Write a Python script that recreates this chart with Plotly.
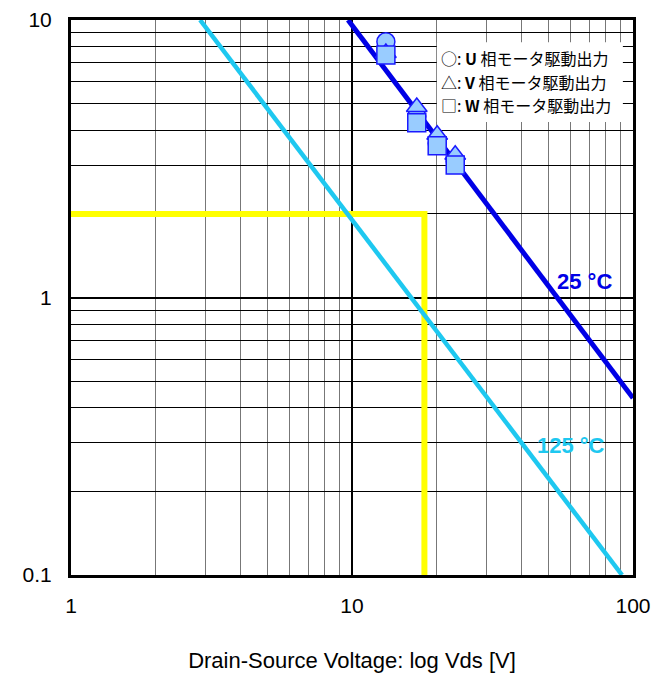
import plotly.graph_objects as go

# Data
line25_v = [9.68, 100]
line25_i = [10, 0.434]
line125_v = [2.88, 91.4]
line125_i = [10, 0.1]
ref_v = [1, 18.1, 18.1]
ref_i = [2, 2, 0.1]

u_v = [13.2, 17.0, 20.1, 23.3]
u_i = [8.35, 4.5, 3.6, 3.1]
v_v = [13.2, 17.0, 20.1, 23.3]
v_i = [7.6, 4.86, 3.86, 3.27]
w_v = [13.2, 17.0, 20.1, 23.3]
w_i = [7.48, 4.26, 3.52, 3.0]

x_tickvals = [1, 10, 100]
x_ticktext = ["1", "10", "100"]
y_tickvals = [0.1, 1, 10]
y_ticktext = ["0.1", "1", "10"]

legend_rows = ["○: <b>U</b> 相モータ駆動出力", "△: <b>V</b> 相モータ駆動出力", "□: <b>W</b> 相モータ駆動出力"]

FONT = "Arial, Liberation Sans, Noto Sans CJK JP, sans-serif"
LFONT = "Noto Sans CJK JP, Arial, sans-serif"
fill = "#99ccff"
edge = "#1a1aff"

fig = go.Figure()
fig.add_trace(go.Scatter(x=ref_v, y=ref_i, mode="lines",
                         line=dict(color="#ffff00", width=6), hoverinfo="skip"))
fig.add_trace(go.Scatter(x=line125_v, y=line125_i, mode="lines",
                         line=dict(color="#1ec8f0", width=4.5)))
fig.add_trace(go.Scatter(x=line25_v, y=line25_i, mode="lines",
                         line=dict(color="#0000e6", width=5)))
ms = 18
fig.add_trace(go.Scatter(x=u_v, y=u_i, mode="markers",
                         marker=dict(symbol="circle", size=ms, color=fill, line=dict(color=edge, width=1.5))))
fig.add_trace(go.Scatter(x=v_v, y=v_i, mode="markers",
                         marker=dict(symbol="triangle-up", size=ms, color=fill, line=dict(color=edge, width=1.5))))
fig.add_trace(go.Scatter(x=w_v, y=w_i, mode="markers",
                         marker=dict(symbol="square", size=ms, color=fill, line=dict(color=edge, width=1.5))))

# Legend box
fig.add_shape(type="rect", xref="paper", yref="paper", x0=0.651, x1=0.982, y0=0.816, y1=0.960,
              fillcolor="white", line=dict(width=0), layer="above")
for k, (row, yy) in enumerate(zip(legend_rows, [0.932, 0.889, 0.847])):
    fig.add_annotation(x=0.655, y=yy, xref="paper", yref="paper", text=row, showarrow=False,
                       xanchor="left", yanchor="middle", font=dict(size=16, color="black", family=LFONT))

fig.add_annotation(x=1.829, y=0.056, xref="x", yref="y", text="<b>25 °C</b>", showarrow=False,
                   font=dict(size=22, color="#0000e6", family=FONT))
fig.add_annotation(x=1.779, y=-0.535, xref="x", yref="y", text="<b>125 °C</b>", showarrow=False,
                   font=dict(size=22, color="#1ec8f0", family=FONT))

# page body has an 8px margin: compensate
fig.update_layout(
    width=662, height=665,
    margin=dict(l=63, r=37, t=12, b=98, autoexpand=False),
    paper_bgcolor="white", plot_bgcolor="white",
    showlegend=False,
    font=dict(family=FONT, color="black"),
    xaxis=dict(type="log", range=[0, 2], tickvals=x_tickvals, ticktext=x_ticktext,
               showgrid=True, gridcolor="black", gridwidth=2,
               minor=dict(dtick="D1", showgrid=True, gridcolor="#777777", gridwidth=1, ticks=""),
               showline=True, linecolor="black", linewidth=3, mirror=True, automargin=False,
               ticks="", tickfont=dict(size=21), zeroline=False, ticklabelstandoff=10,
               title=dict(text="Drain-Source Voltage: log Vds [V]", font=dict(size=22), standoff=44)),
    yaxis=dict(type="log", range=[-1, 1], tickvals=y_tickvals, ticktext=y_ticktext,
               showgrid=True, gridcolor="black", gridwidth=2,
               minor=dict(dtick="D1", showgrid=True, gridcolor="black", gridwidth=1, ticks=""),
               showline=True, linecolor="black", linewidth=3, mirror=True, automargin=False,
               ticks="", tickfont=dict(size=21), zeroline=False, ticklabelstandoff=12),
)

fig.write_html("out.html")
